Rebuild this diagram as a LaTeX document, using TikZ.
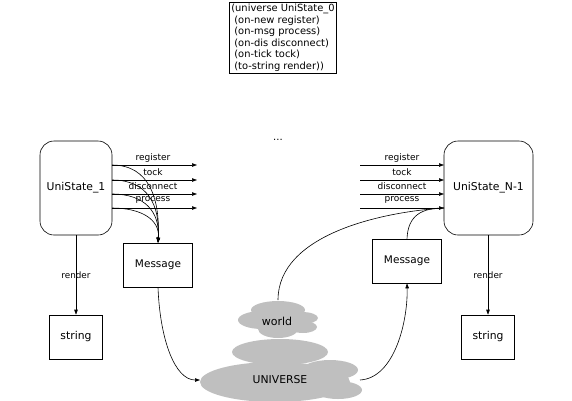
\documentclass[tikz,border=0pt]{standalone}
\usepackage{fontspec}
\setmainfont{DejaVu Sans}
\usetikzlibrary{arrows.meta}
\begin{document}
\begin{tikzpicture}[x=1pt,y=-1pt,
  line width=0.6pt,
  arr/.style={-{Triangle[length=5pt,width=3.5pt]}},
  rbox/.style={draw,rounded corners=14pt,minimum height=94pt,font=\fontsize{10.8}{12}\selectfont},
  sbox/.style={draw,minimum width=53pt,minimum height=44pt,font=\fontsize{10.8}{12}\selectfont},
  mbox/.style={draw,minimum width=69pt,minimum height=44pt,font=\fontsize{10.5}{12}\selectfont},
  lab/.style={font=\fontsize{9}{10}\selectfont,inner sep=0pt},
  rlab/.style={font=\fontsize{8.8}{10}\selectfont,inner sep=0pt},
  cloudfill/.style={fill=black!25,draw=none}]
\useasboundingbox (0,0) rectangle (572,400);
\begin{scope}
\clip (0,0) rectangle (572,400);
% clouds
\fill[cloudfill] (278,310) ellipse [x radius=27, y radius=9];
\fill[cloudfill] (262,320) ellipse [x radius=24, y radius=9];
\fill[cloudfill] (302,318) ellipse [x radius=16, y radius=6];
\fill[cloudfill] (303,327) ellipse [x radius=14, y radius=6];
\fill[cloudfill] (278,329) ellipse [x radius=20, y radius=9];
\fill[cloudfill] (280,352) ellipse [x radius=48, y radius=13];
\fill[cloudfill] (275,382) ellipse [x radius=75, y radius=20];
\fill[cloudfill] (330,370) ellipse [x radius=28, y radius=10];
\fill[cloudfill] (338,390) ellipse [x radius=24, y radius=9];
\end{scope}
\node[font=\fontsize{11}{12}\selectfont,inner sep=0pt] (world) at (277,321) {world};
\node[font=\fontsize{10.8}{12}\selectfont,inner sep=0pt] (univ) at (280,380) {UNIVERSE};
\coordinate (wtop) at (278,300);
\coordinate (uleft) at (200,380);
\coordinate (uright) at (360,380);

% top box
\node[draw,align=left,inner sep=2pt,font=\fontsize{9.9}{11.5}\selectfont] (def) at (283,38)
{(universe UniState\_0\\
\hspace*{3pt}(on-new register)\\
\hspace*{3pt}(on-msg process)\\
\hspace*{3pt}(on-dis disconnect)\\
\hspace*{3pt}(on-tick tock)\\
\hspace*{3pt}(to-string render))};
\node[font=\fontsize{10}{10}\selectfont] (dots) at (278,140) {...};

% left side
\node[rbox,minimum width=72pt] (s1) at (76,188) {UniState\_1};
\node[mbox] (m1) at (158,265) {Message};
\node[sbox] (t1) at (76,337) {string};
\coordinate (a1) at (112,165); \coordinate (e1) at (197,165);
\coordinate (a2) at (112,180); \coordinate (e2) at (197,180);
\coordinate (a3) at (112,194); \coordinate (e3) at (197,194);
\coordinate (a4) at (112,208); \coordinate (e4) at (197,208);
\draw[arr] (a1) -- (e1);
\draw[arr] (a2) -- (e2);
\draw[arr] (a3) -- (e3);
\draw[arr] (a4) -- (e4);
\node[lab] (lr1) at (153,158) {register};
\node[lab] (lt1) at (153,172) {tock};
\node[lab] (ld1) at (153,186) {disconnect};
\node[lab] (lp1) at (153,200) {process};
\draw[arr] (a1) .. controls (150,165) and (160,200) .. (m1.north);
\draw[arr] (a2) .. controls (148,180) and (160,205) .. (m1.north);
\draw[arr] (a3) .. controls (145,194) and (160,212) .. (m1.north);
\draw[arr] (a4) .. controls (142,208) and (160,220) .. (m1.north);
\draw[arr] (s1) -- (t1) node[rlab,midway] {render};
\draw[arr] (m1.south) .. controls (160,340) and (175,380) .. (uleft);

% right side
\node[rbox,minimum width=89pt] (s2) at (488.5,188) {UniState\_N-1};
\node[mbox] (m2) at (407,261) {Message};
\node[sbox] (t2) at (488,337) {string};
\coordinate (b1) at (360,165); \coordinate (f1) at (444,165);
\coordinate (b2) at (360,180); \coordinate (f2) at (444,180);
\coordinate (b3) at (360,194); \coordinate (f3) at (444,194);
\coordinate (b4) at (360,208); \coordinate (f4) at (444,208);
\draw[arr] (b1) -- (f1);
\draw[arr] (b2) -- (f2);
\draw[arr] (b3) -- (f3);
\draw[arr] (b4) -- (f4);
\node[lab] (lr2) at (402,158) {register};
\node[lab] (lt2) at (402,172) {tock};
\node[lab] (ld2) at (402,186) {disconnect};
\node[lab] (lp2) at (402,200) {process};
\draw (m2.north) .. controls (408,215) and (422,208) .. (f4);
\draw (wtop) .. controls (278,235) and (380,212) .. (f4);
\draw[arr] (s2.south -| t2) -- (t2) node[rlab,midway] {render};
\draw[arr] (uright) .. controls (395,378) and (408,320) .. (m2.south);
\end{tikzpicture}
\end{document}
